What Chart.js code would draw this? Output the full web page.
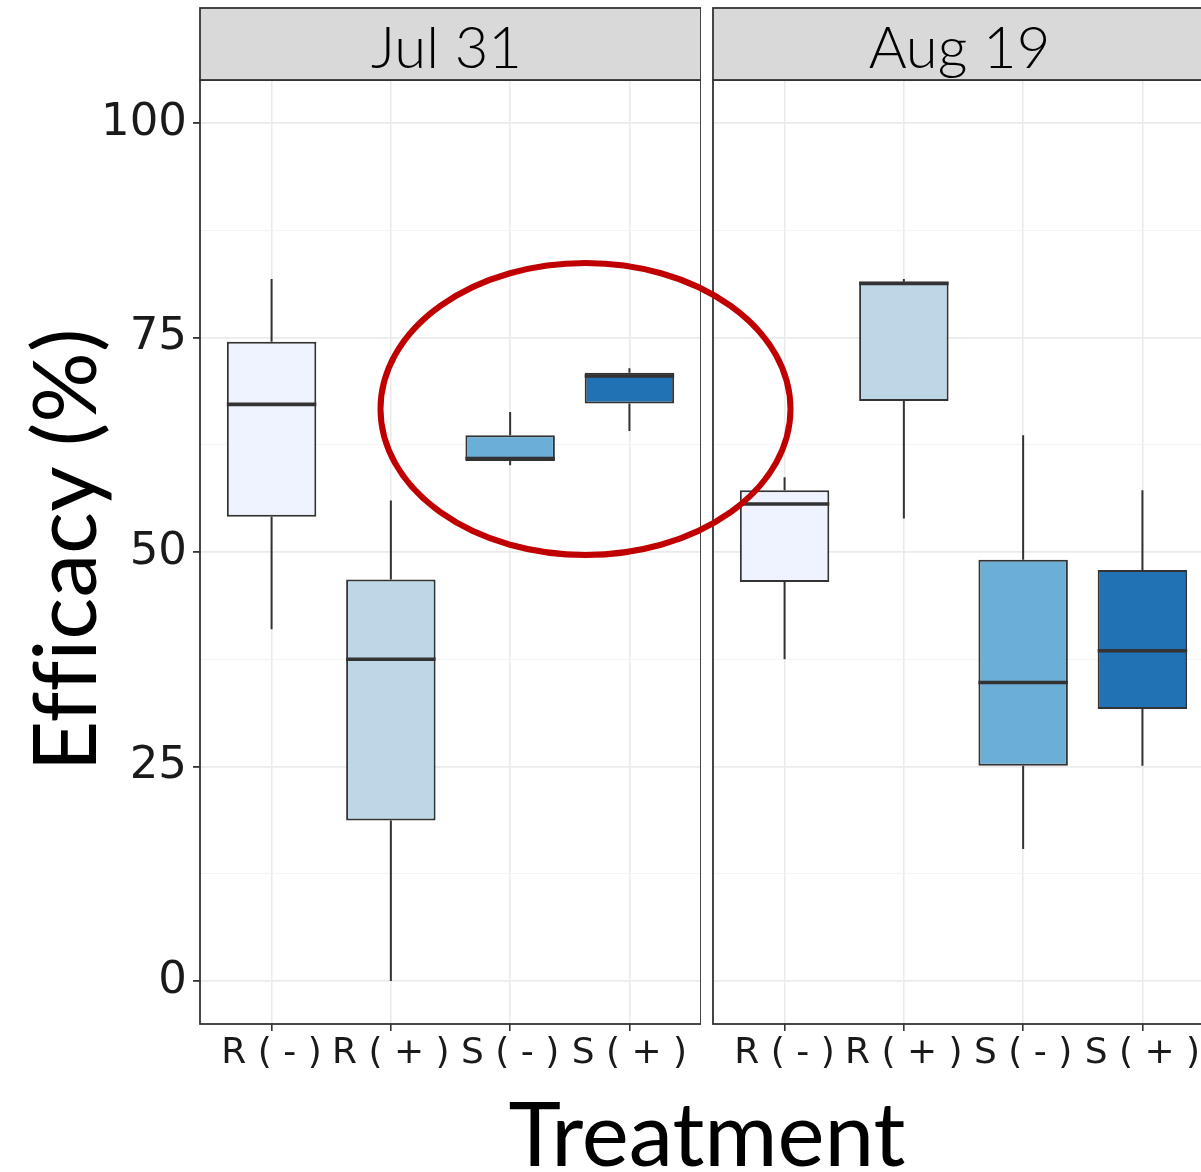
<!DOCTYPE html>
<html><head><meta charset="utf-8">
<script src="https://cdn.jsdelivr.net/npm/chart.js@4.4.0/dist/chart.umd.min.js"></script>
<style>
html,body{margin:0;padding:0;background:#fff;width:1201px;height:1172px;overflow:hidden;position:relative;}
canvas{position:absolute;top:0;}
#c1{left:0;}
#c2{left:700px;}
.title{position:absolute;font-family:Lato,"Open Sans",sans-serif;color:#000;white-space:nowrap;text-align:center;font-variant-ligatures:none;font-feature-settings:"liga" 0;}
#ytitle{left:-238px;top:500px;width:600px;height:100px;line-height:100px;font-size:88px;transform:rotate(-90deg);}
#xtitle{left:407px;top:1082px;width:600px;height:100px;line-height:100px;font-size:89px;}
svg{position:absolute;left:0;top:0;}
</style></head>
<body>
<canvas id="c1" width="701" height="1080"></canvas>
<canvas id="c2" width="514" height="1080"></canvas>
<div class="title" id="ytitle">Efficacy (%)</div>
<div class="title" id="xtitle">Treatment</div>
<svg width="1201" height="1172"><ellipse cx="585.5" cy="409" rx="205" ry="146" fill="none" stroke="#C00000" stroke-width="6"/></svg>
<script>
const categories = ['R ( - )', 'R ( + )', 'S ( - )', 'S ( + )'];
const panels = ['Jul 31', 'Aug 19'];
const fills = ['#EFF3FF', '#BDD7E7', '#6BAED6', '#2171B5'];
const yTickValues = [0, 12.5, 25, 37.5, 50, 62.5, 75, 87.5, 100];

const jul31Min    = [41.0,  0.0, 60.1, 64.1];
const jul31Q1     = [54.1, 18.7, 60.6, 67.3];
const jul31Median = [67.2, 37.5, 60.9, 70.5];
const jul31Q3     = [74.5, 46.8, 63.6, 70.9];
const jul31Max    = [81.8, 56.0, 66.3, 71.4];

const aug19Min    = [37.5, 53.9, 15.4, 25.1];
const aug19Q1     = [46.5, 67.6, 25.1, 31.7];
const aug19Median = [55.6, 81.3, 34.8, 38.5];
const aug19Q3     = [57.2, 81.5, 49.1, 47.9];
const aug19Max    = [58.7, 81.8, 63.6, 57.2];

function makePanel(id, label, mins, q1s, meds, q3s, maxs, showY) {
  const boxPlugin = {
    id: 'box' + id,
    afterDatasetsDraw(chart) {
      const ctx = chart.ctx, ys = chart.scales.y;
      const meta = chart.getDatasetMeta(0);
      ctx.save();
      ctx.strokeStyle = '#333333';
      meta.data.forEach((el, i) => {
        const x = el.x, w = el.width;
        ctx.lineWidth = 2;
        ctx.beginPath();
        ctx.moveTo(x, ys.getPixelForValue(q3s[i]));
        ctx.lineTo(x, ys.getPixelForValue(maxs[i]));
        ctx.moveTo(x, ys.getPixelForValue(q1s[i]));
        ctx.lineTo(x, ys.getPixelForValue(mins[i]));
        ctx.stroke();
        ctx.lineWidth = 3.6;
        ctx.beginPath();
        const my = ys.getPixelForValue(meds[i]);
        ctx.moveTo(x - w / 2, my);
        ctx.lineTo(x + w / 2, my);
        ctx.stroke();
      });
      ctx.restore();
    },
    afterDraw(chart) {
      const ctx = chart.ctx, a = chart.chartArea;
      ctx.save();
      ctx.strokeStyle = '#333333';
      ctx.lineWidth = 1.8;
      ctx.strokeRect(a.left, a.top, a.right - a.left, a.bottom - a.top);
      ctx.fillStyle = '#D9D9D9';
      ctx.fillRect(a.left, 8, a.right - a.left, a.top - 8);
      ctx.strokeRect(a.left, 8, a.right - a.left, a.top - 8);
      ctx.fillStyle = '#000';
      ctx.font = '300 58px Lato';
      ctx.textAlign = 'center';
      ctx.textBaseline = 'alphabetic';
      ctx.fillText(label, (a.left + a.right) / 2 - 4, 68);
      ctx.restore();
    }
  };
  return new Chart(document.getElementById(id), {
    type: 'bar',
    data: {
      datasets: [{
        data: categories.map((c, i) => ({ x: i, y: [q1s[i], q3s[i]] })),
        backgroundColor: fills,
        borderColor: '#333333',
        borderWidth: 2,
        borderSkipped: false,
        barPercentage: 0.75,
        categoryPercentage: 1
      }]
    },
    options: {
      responsive: false,
      animation: false,
      devicePixelRatio: 1,
      layout: { padding: { top: 80, left: 0, right: 0, bottom: 0 } },
      plugins: { legend: { display: false }, tooltip: { enabled: false } },
      scales: {
        x: {
          type: 'linear', min: -0.6, max: 3.6, offset: false,
          afterBuildTicks: s => { s.ticks = categories.map((c, i) => ({ value: i })); },
          afterFit: s => { s.height = 56; },
          border: { display: false },
          grid: { offset: false, color: '#EBEBEB', lineWidth: 1.6, tickLength: 7, tickColor: '#333333' },
          ticks: {
            callback: (v, i) => categories[i],
            autoSkip: false, maxRotation: 0, minRotation: 0, padding: 1,
            color: '#1a1a1a', font: { family: 'DejaVu Sans', size: 36 }
          }
        },
        y: {
          min: -5, max: 105,
          afterBuildTicks: s => { s.ticks = yTickValues.map(v => ({ value: v })); },
          afterFit: s => { s.width = showY ? 200 : 13; },
          border: { display: false },
          grid: {
            drawTicks: showY,
            tickLength: 7,
            color: c => (c.tick && c.tick.value % 25 === 0) ? '#EBEBEB' : '#F4F4F4',
            lineWidth: c => (c.tick && c.tick.value % 25 === 0) ? 1.8 : 1.1,
            tickColor: c => (c.tick && c.tick.value % 25 === 0) ? '#333333' : 'rgba(0,0,0,0)'
          },
          ticks: {
            display: showY,
            callback: v => (v % 25 === 0 ? String(v) : ''),
            padding: 6,
            color: '#1a1a1a', font: { family: 'DejaVu Sans', size: 45 }
          }
        }
      }
    },
    plugins: [boxPlugin]
  });
}

makePanel('c1', panels[0], jul31Min, jul31Q1, jul31Median, jul31Q3, jul31Max, true);
makePanel('c2', panels[1], aug19Min, aug19Q1, aug19Median, aug19Q3, aug19Max, false);
</script>
</body></html>
